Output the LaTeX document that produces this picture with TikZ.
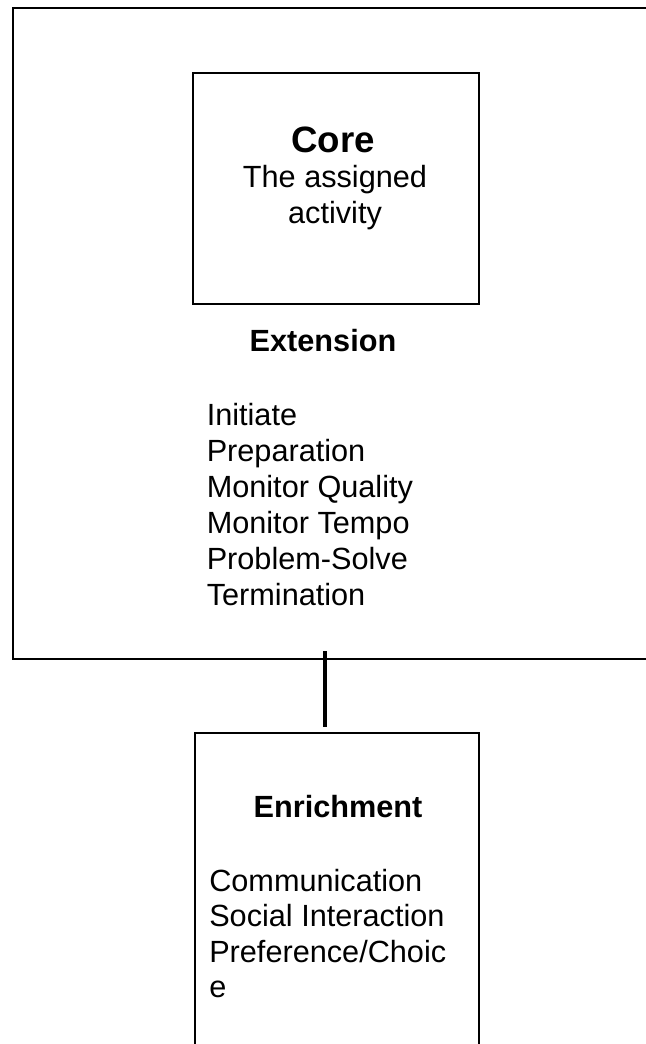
\documentclass[tikz,border=0pt]{standalone}
\usepackage{fontspec}
\setmainfont{Liberation Sans}
\usetikzlibrary{positioning}
\tikzset{box/.style={draw,line width=1.5pt,inner sep=0pt,anchor=north west},
  title/.style={anchor=base,inner sep=0pt,font=\bfseries\fontsize{23}{26.85}\selectfont},
  item/.style={anchor=base west,inner sep=0pt,font=\fontsize{23}{26.85}\selectfont},
  link/.style={line width=3pt}}

\begin{document}
\begin{tikzpicture}[x=0.75pt,y=-0.75pt]
\useasboundingbox (0,0) rectangle (645,1044);
% outer frame and the core box
\node[box,minimum width=484.5pt,minimum height=487.5pt] (frame) at (12,7.5) {};
\node[box,minimum width=214.5pt,minimum height=173.25pt] (core) at (192,72) {};
\node[title,font=\bfseries\fontsize{27.5}{31}\selectfont] (coretitle) at (333,153) {Core};
\node[item,anchor=base] (coretext1) at (335,188) {The assigned};
\node[item,anchor=base] (coretext2) at (335,224) {activity};
% extension list
\node[title] (ext) at (323,352) {Extension};
\foreach \t [count=\i] in {Initiate,Preparation,Monitor Quality,Monitor Tempo,Problem-Solve,Termination}
  \node[item] (ext\i) at (206.5,{425.7+35.9*(\i-1)}) {\t};
% link down to enrichment
\coordinate (linktop) at (325,651);\coordinate (linkend) at (325,727);
\draw[link] (linktop)--(linkend);
\node[box,minimum width=213pt,minimum height=247.5pt] (enrich) at (194,732) {};
\node[title] (enrichtitle) at (338,817) {Enrichment};
\foreach \t [count=\i] in {Communication,Social Interaction,Preference/Choic,e}
  \node[item] (enr\i) at (209,{891+35.5*(\i-1)}) {\t};
\end{tikzpicture}
\end{document}
